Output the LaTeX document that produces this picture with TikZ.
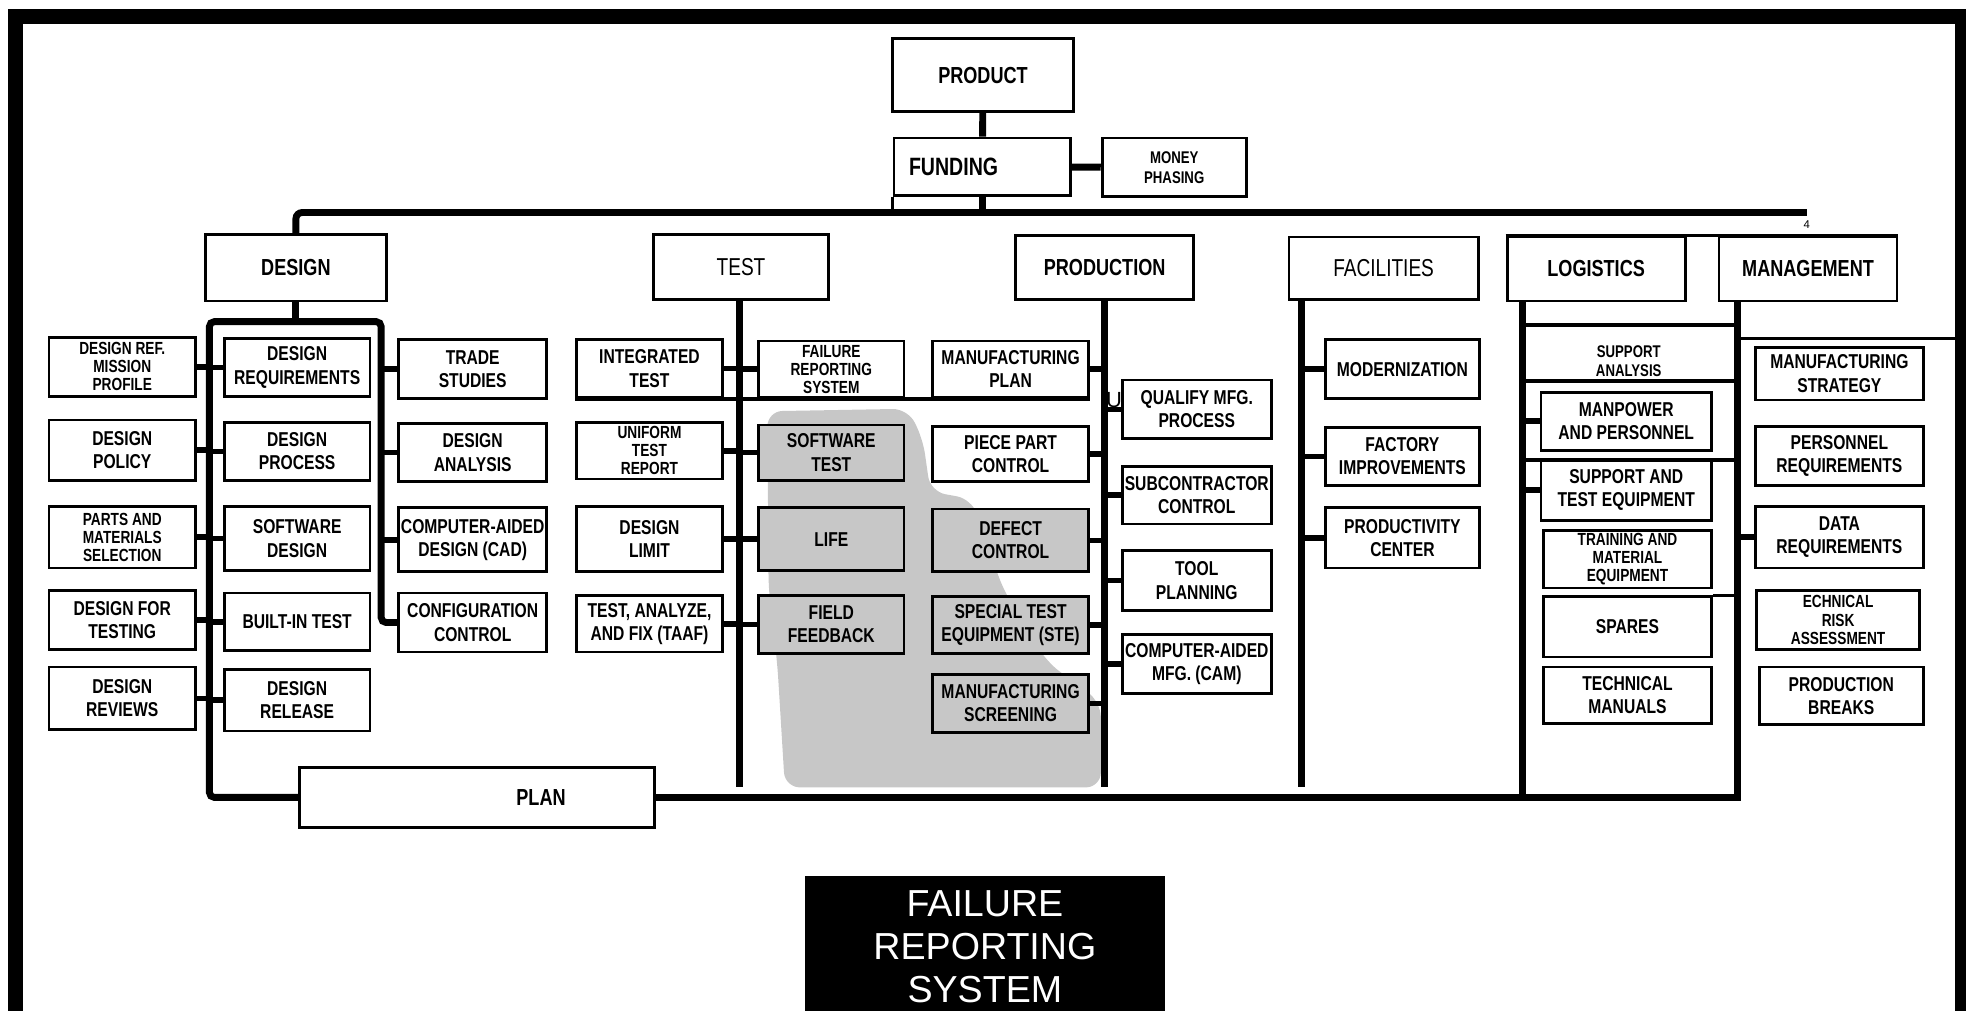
\documentclass[tikz,border=0pt]{standalone}
\usepackage{fontspec}
\usepackage{tikz}
\newfontfamily\condfont[FakeStretch=0.78]{Liberation Sans}
\newfontfamily\plainsans{Liberation Sans}
\newcommand\lblfont{\condfont\bfseries\fontsize{16}{18.5}\selectfont}
\newcommand\lblsmall{\condfont\bfseries\fontsize{14}{14.5}\selectfont}
\newcommand\lbltiny{\condfont\bfseries\fontsize{13.5}{16}\selectfont}
\newcommand\ttlfont{\condfont\bfseries\fontsize{18.5}{22}\selectfont}
\newcommand\ttllight{\condfont\fontsize{19.5}{22}\selectfont}
\newcommand\bannerfont{\plainsans\fontsize{30}{34.5}\selectfont}

\begin{document}
\begin{tikzpicture}[x=1pt, y=-1pt,
  pbox/.style={draw, line width=2.2pt, fill=white, inner sep=1pt, align=center, font=\lblfont},
  ptitle/.style={pbox, font=\ttlfont},
  plight/.style={pbox, font=\ttllight},
  pdots/.style={fill=black!22},
  pbus/.style={line width=5.5pt},
  pstub/.style={line width=4.5pt},
  prule/.style={line width=3pt},
  pframe/.style={line width=12pt}]
  \useasboundingbox (0,0) rectangle (1568,806);

  % halftone patch behind the test / production boxes
  \fill[pdots, rounded corners=12] (612,328) -- (724,326) -- (736,350) -- (742,392) -- (775,398) -- (800,470) -- (835,528) -- (878,560) -- (878,628) -- (626,628) -- (620,530) -- (613,470) -- cycle;

  % frame
  \draw[pframe] (12,806) -- (12,13) -- (1565,13) -- (1565,806);

  % top of the tree
  \node[ptitle, minimum width=144, minimum height=58] (product) at (784,60) {PRODUCT};
  \node[pbox, font=\condfont\bfseries\fontsize{20}{22}\selectfont, text width=117pt, inner xsep=12pt, align=left, minimum height=46] (funding) at (783.5,133) {FUNDING};
  \node[pbox, font=\lbltiny, minimum width=115, minimum height=47] (money) at (936.5,133.5) {MONEY\\PHASING};

  % second level
  \node[ptitle, minimum width=144, minimum height=53] (design) at (236,213.5) {DESIGN};
  \node[plight, minimum width=140, minimum height=52] (test) at (591,213) {TEST};
  \node[ptitle, minimum width=142, minimum height=51] (production) at (881,213.5) {PRODUCTION};
  \node[plight, minimum width=151, minimum height=50] (facilities) at (1103.5,214) {FACILITIES};
  \node[ptitle, minimum width=142, minimum height=51] (logistics) at (1273,214.5) {LOGISTICS};
  \node[ptitle, minimum width=142, minimum height=51] (management) at (1442,214.5) {MANAGEMENT};

  % design
  \node[pbox, font=\lblsmall, minimum width=117, minimum height=47] (dref) at (97.5,292.5) {DESIGN REF.\\MISSION\\PROFILE};
  \node[pbox, minimum width=117, minimum height=48] (dpolicy) at (97.5,359) {DESIGN\\POLICY};
  \node[pbox, font=\lblsmall, minimum width=117, minimum height=49] (parts) at (97.5,428.5) {PARTS AND\\MATERIALS\\SELECTION};
  \node[pbox, minimum width=117, minimum height=47] (dft) at (97.5,494.5) {DESIGN FOR\\TESTING};
  \node[pbox, minimum width=117, minimum height=50] (dreviews) at (97.5,557) {DESIGN\\REVIEWS};
  \node[pbox, minimum width=116, minimum height=46] (dreq) at (237,293) {DESIGN\\REQUIREMENTS};
  \node[pbox, minimum width=116, minimum height=46] (dprocess) at (237,360) {DESIGN\\PROCESS};
  \node[pbox, minimum width=116, minimum height=51] (swdesign) at (237,429.5) {SOFTWARE\\DESIGN};
  \node[pbox, minimum width=116, minimum height=46] (bit) at (237,496) {BUILT-IN TEST};
  \node[pbox, minimum width=116, minimum height=49] (drelease) at (237,558.5) {DESIGN\\RELEASE};
  \node[pbox, minimum width=118, minimum height=47] (trade) at (377,294.5) {TRADE\\STUDIES};
  \node[pbox, minimum width=118, minimum height=46] (danalysis) at (377,361) {DESIGN\\ANALYSIS};
  \node[pbox, minimum width=118, minimum height=51] (cad) at (377,430.5) {COMPUTER-AIDED\\DESIGN (CAD)};
  \node[pbox, minimum width=118, minimum height=47] (config) at (377,496.5) {CONFIGURATION\\CONTROL};
  \node[ptitle, minimum width=283, minimum height=48] (plan) at (380.5,636) {\hspace*{102pt}PLAN};

  % test
  \node[pbox, minimum width=116, minimum height=46] (itest) at (518,294) {INTEGRATED\\TEST};
  \node[pbox, font=\lblsmall, minimum width=116, minimum height=45] (utr) at (518,359.5) {UNIFORM\\TEST\\REPORT};
  \node[pbox, minimum width=116, minimum height=52] (dlimit) at (518,430) {DESIGN\\LIMIT};
  \node[pbox, minimum width=116, minimum height=45] (taaf) at (518,497.5) {TEST, ANALYZE,\\AND FIX (TAAF)};
  \node[pbox, font=\lblsmall, minimum width=116, minimum height=45] (frs) at (663,294.5) {FAILURE\\REPORTING\\SYSTEM};
  \node[pbox, pdots, minimum width=116, minimum height=44] (swtest) at (663,361) {SOFTWARE\\TEST};
  \node[pbox, pdots, minimum width=116, minimum height=50] (life) at (663,430) {LIFE};
  \node[pbox, pdots, minimum width=116, minimum height=46] (feedback) at (663,498) {FIELD\\FEEDBACK};

  % production
  \node[pbox, minimum width=124, minimum height=45] (mplan) at (806,294.5) {MANUFACTURING\\PLAN};
  \node[pbox, minimum width=124, minimum height=44] (ppc) at (806,362) {PIECE PART\\CONTROL};
  \node[pbox, pdots, minimum width=124, minimum height=50] (defect) at (806,431) {DEFECT\\CONTROL};
  \node[pbox, pdots, minimum width=124, minimum height=45] (ste) at (806,498.5) {SPECIAL TEST\\EQUIPMENT (STE)};
  \node[pbox, pdots, minimum width=124, minimum height=46] (mscreen) at (806,561) {MANUFACTURING\\SCREENING};
  \node[pbox, minimum width=119, minimum height=47] (qmp) at (954.5,326.5) {QUALIFY MFG.\\PROCESS};
  \node[pbox, minimum width=119, minimum height=46] (subcon) at (954.5,395) {SUBCONTRACTOR\\CONTROL};
  \node[pbox, minimum width=119, minimum height=48] (tool) at (954.5,463) {TOOL\\PLANNING};
  \node[pbox, minimum width=119, minimum height=47] (cam) at (954.5,529.5) {COMPUTER-AIDED\\MFG. (CAM)};
  \node[font=\plainsans\fontsize{17.5}{18}\selectfont, inner sep=0pt] (ufrag) at (888.5,319) {U};

  % facilities
  \node[pbox, minimum width=123, minimum height=47] (modern) at (1118.5,294.5) {MODERNIZATION};
  \node[pbox, minimum width=123, minimum height=46] (factory) at (1118.5,364) {FACTORY\\IMPROVEMENTS};
  \node[pbox, minimum width=123, minimum height=48] (prodcenter) at (1118.5,429) {PRODUCTIVITY\\CENTER};

  % logistics
  \node[align=center, font=\condfont\bfseries\fontsize{13.5}{14.5}\selectfont, inner sep=0pt] (support) at (1299,288) {SUPPORT\\ANALYSIS};
  \node[pbox, minimum width=136, minimum height=46] (manpower) at (1297,336) {MANPOWER\\AND PERSONNEL};
  \node[pbox, minimum width=136, minimum height=48] (suptest) at (1297,391) {SUPPORT AND\\TEST EQUIPMENT};
  \node[pbox, font=\lblsmall, minimum width=134, minimum height=46] (training) at (1298,446) {TRAINING AND\\MATERIAL\\EQUIPMENT};
  \node[pbox, minimum width=134, minimum height=48] (spares) at (1298,500) {SPARES};
  \node[pbox, minimum width=134, minimum height=45] (techman) at (1298,554.5) {TECHNICAL\\MANUALS};

  % management
  \node[pbox, minimum width=134, minimum height=42] (mstrategy) at (1467,298) {MANUFACTURING\\STRATEGY};
  \node[pbox, minimum width=134, minimum height=47] (preq) at (1467,363.5) {PERSONNEL\\REQUIREMENTS};
  \node[pbox, minimum width=134, minimum height=49] (dreqm) at (1467,428.5) {DATA\\REQUIREMENTS};
  \node[pbox, font=\lblsmall, minimum width=130, minimum height=47] (trisk) at (1466,494.5) {ECHNICAL\\RISK\\ASSESSMENT};
  \node[pbox, minimum width=131, minimum height=46] (pbreaks) at (1468.5,555) {PRODUCTION\\BREAKS};

  % banner
  \node[fill=black, text=white, font=\bannerfont, align=center, minimum width=287, minimum height=112, inner sep=0pt] (banner) at (785.5,755) {FAILURE\\REPORTING\\SYSTEM};

  % main bus
  \coordinate (busend) at (1441,169.5);
  \node[font=\plainsans\fontsize{9}{9}\selectfont, inner sep=0pt] (four) at (1441,179) {4};
  \draw[pbus] (product) -- (funding);
  \draw[pbus] (funding) -- (money);
  \draw[pbus, rounded corners=5] (design.north) |- (busend);
  \draw[pbus] (funding.south) -- (funding.south |- busend);
  \draw[prule] (funding.south west) -- (funding.south west |- busend);

  % design lines
  \coordinate (dl) at (167,256.5);
  \coordinate (dr) at (304,256.5);
  \draw[pbus] (design.south) -- (design.south |- dl);
  \draw[pbus, rounded corners=4] (plan.west) -| (dl) -- (dr) |- (config.west);
  \draw[pstub] (dref.east) -- (dref.east -| dl) (dpolicy.east) -- (dpolicy.east -| dl) (parts.east) -- (parts.east -| dl) (dft.east) -- (dft.east -| dl) (dreviews.east) -- (dreviews.east -| dl);
  \draw[pstub] (dreq.west) -- (dreq.west -| dl) (dprocess.west) -- (dprocess.west -| dl) (swdesign.west) -- (swdesign.west -| dl) (bit.west) -- (bit.west -| dl) (drelease.west) -- (drelease.west -| dl);
  \draw[pstub] (trade.west) -- (trade.west -| dr) (danalysis.west) -- (danalysis.west -| dr) (cad.west) -- (cad.west -| dr);

  % test lines
  \coordinate (tl) at (590,628);
  \draw[pbus] (test.south -| tl) -- (tl);
  \draw[prule] (itest.south west) -- (mplan.south east);
  \draw[pstub] (itest.east) -- (itest.east -| tl) (utr.east) -- (utr.east -| tl) (dlimit.east) -- (dlimit.east -| tl) (taaf.east) -- (taaf.east -| tl);
  \draw[pstub] (frs.west) -- (frs.west -| tl) (swtest.west) -- (swtest.west -| tl) (life.west) -- (life.west -| tl) (feedback.west) -- (feedback.west -| tl);

  % production lines
  \coordinate (pl) at (881,628);
  \draw[pbus] (production.south) -- (pl);
  \draw[pstub] (mplan.east) -- (mplan.east -| pl) (ppc.east) -- (ppc.east -| pl) (defect.east) -- (defect.east -| pl) (ste.east) -- (ste.east -| pl) (mscreen.east) -- (mscreen.east -| pl);
  \draw[pstub] (qmp.west) -- (qmp.west -| pl) (subcon.west) -- (subcon.west -| pl) (tool.west) -- (tool.west -| pl) (cam.west) -- (cam.west -| pl);

  % facilities lines
  \coordinate (fl) at (1038,628);
  \draw[pbus] (facilities.south -| fl) -- (fl);
  \draw[pstub] (modern.west) -- (modern.west -| fl) (factory.west) -- (factory.west -| fl) (prodcenter.west) -- (prodcenter.west -| fl);

  % logistics and management lines
  \coordinate (ll) at (1214.5,636);
  \coordinate (ml) at (1385.5,240);
  \draw[prule] (logistics.north west) -- (management.north east);
  \draw[pbus] (logistics.south -| ll) -- (ll);
  \draw[pbus] (plan.east) -| (ml);
  \draw[prule] (1214.5,259.5) -- (1385.5,259.5) (1214.5,304) -- (1385.5,304) (1214.5,367) -- (1385.5,367);
  \draw[prule] (spares.north east) -- (spares.north east -| ml);
  \draw[prule] (1385.5,270) -- (1565,270);
  \draw[pstub] (manpower.west) -- (manpower.west -| ll) (suptest.west) -- (suptest.west -| ll);
  \draw[pstub] (dreqm.west) -- (dreqm.west -| ml);
\end{tikzpicture}
\end{document}
